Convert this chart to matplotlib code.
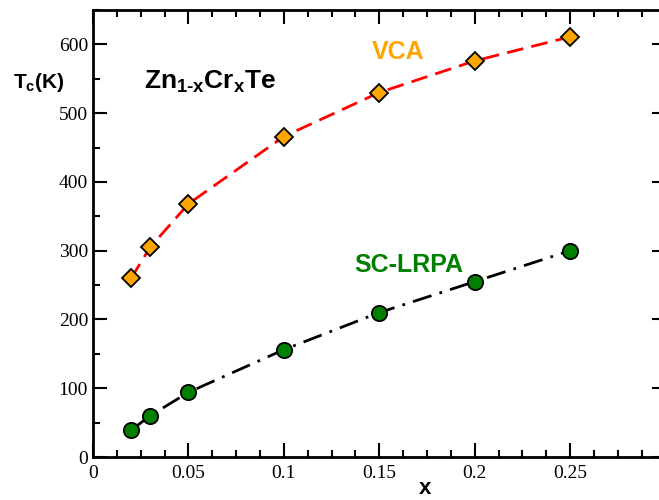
import matplotlib
matplotlib.use("Agg")
import matplotlib.pyplot as plt
from matplotlib.ticker import MultipleLocator

# concentration x
x = [0.02, 0.03, 0.05, 0.10, 0.15, 0.20, 0.25]
# Curie temperatures (K)
tc_vca = [260, 305, 368, 466, 530, 576, 611]
tc_sclrpa = [39, 60, 94, 156, 210, 255, 300]

plt.rcParams['font.family'] = 'Liberation Serif'
plt.rcParams['mathtext.fontset'] = 'custom'
plt.rcParams['mathtext.rm'] = 'Liberation Sans:bold'
plt.rcParams['mathtext.bf'] = 'Liberation Sans:bold'
plt.rcParams['mathtext.it'] = 'Liberation Sans:bold'

fig = plt.figure(figsize=(6.59, 5.0), dpi=100)
ax = fig.add_axes([0.141, 0.086, 0.869, 0.894])

ax.plot(x, tc_vca, color='red', ls=(0, (6, 3)), lw=2, zorder=2)
ax.plot(x, tc_vca, ls='none', marker='D', ms=9.5, mfc='orange', mec='black', mew=1.3, zorder=3)
ax.plot(x, tc_sclrpa, color='black', ls=(0, (7, 3, 1, 3)), lw=2, zorder=2)
ax.plot(x, tc_sclrpa, ls='none', marker='o', ms=11, mfc='green', mec='black', mew=1.3, zorder=3)

ax.set_xlim(0, 0.3)
ax.set_ylim(0, 650)
ax.xaxis.set_minor_locator(MultipleLocator(0.0125))
ax.yaxis.set_minor_locator(MultipleLocator(50))
ax.set_xticks([0, 0.05, 0.1, 0.15, 0.2, 0.25])
ax.set_xticklabels(['0', '0.05', '0.1', '0.15', '0.2', '0.25'])
ax.set_yticks([0, 100, 200, 300, 400, 500, 600])

ax.tick_params(which='both', direction='in', top=True, right=True, labelsize=14, width=1.5)
ax.tick_params(which='major', length=10)
ax.tick_params(which='minor', length=5)
ax.tick_params(axis='x', pad=6)
for s in ax.spines.values():
    s.set_linewidth(2)

sans = 'Liberation Sans'
fig.text(0.02, 0.834, r'T$_\mathrm{c}$(K)', family=sans, fontsize=15, fontweight='bold',
         va='center', ha='left')
# x label sits right of centre and near the bottom edge, as in the original
fig.text(0.645, 0.022, 'x', family=sans, fontsize=16, fontweight='bold', ha='center', va='center')
ax.text(0.027, 545, r'Zn$_\mathrm{1\text{-}x}$Cr$_\mathrm{x}$Te', family=sans, fontsize=19,
        fontweight='bold', va='center')
ax.text(0.146, 589, 'VCA', family=sans, fontsize=18, fontweight='bold', color='orange', va='center')
ax.text(0.137, 279, 'SC-LRPA', family=sans, fontsize=18, fontweight='bold', color='green', va='center')

fig.savefig('out.png', dpi=100)
